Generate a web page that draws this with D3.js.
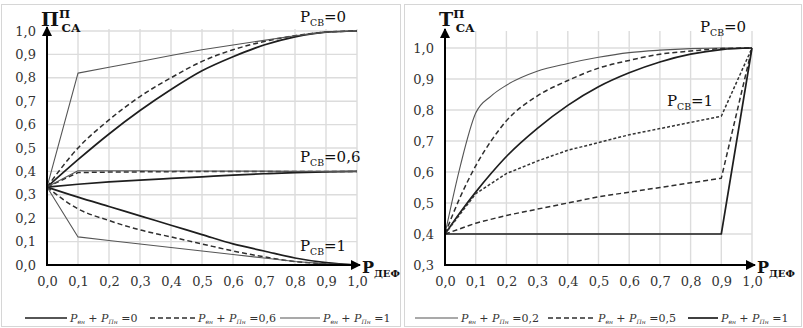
<!DOCTYPE html>
<html lang="ru">
<head>
<meta charset="UTF-8">
<title>П и Т</title>
<style>
  body { margin: 0; background: #fff; }
</style>
</head>
<body>
<div id="chart"></div>
<script src="https://d3js.org/d3.v7.min.js"></script>
<script>
// ---- data ----
const defX = [0, 0.1, 0.2, 0.3, 0.4, 0.5, 0.6, 0.7, 0.8, 0.9, 1.0];
const defXFine = [0, 0.05, 0.1, 0.15, 0.2, 0.3, 0.4, 0.5, 0.6, 0.7, 0.8, 0.9, 1.0];
const tickLabels = ["0,0", "0,1", "0,2", "0,3", "0,4", "0,5", "0,6", "0,7", "0,8", "0,9", "1,0"];
const leftYTicks = [0, 0.1, 0.2, 0.3, 0.4, 0.5, 0.6, 0.7, 0.8, 0.9, 1.0];
const rightYTicks = [0.3, 0.4, 0.5, 0.6, 0.7, 0.8, 0.9, 1.0];

// left panel, П_СА
const p_cb0_s0 = [0.333, 0.45, 0.56, 0.66, 0.75, 0.83, 0.89, 0.94, 0.975, 0.995, 1.0];
const p_cb0_s06 = [0.333, 0.50, 0.62, 0.72, 0.80, 0.87, 0.92, 0.955, 0.98, 0.995, 1.0];
const p_cb0_s1 = [0.333, 0.82, 0.845, 0.87, 0.895, 0.92, 0.94, 0.96, 0.98, 0.995, 1.0];
const p_cb06_s0 = [0.333, 0.345, 0.355, 0.363, 0.37, 0.377, 0.384, 0.39, 0.395, 0.398, 0.40];
const p_cb06_s06 = [0.333, 0.395, 0.397, 0.398, 0.399, 0.40, 0.40, 0.40, 0.40, 0.40, 0.40];
const p_cb06_s1 = [0.333, 0.403, 0.403, 0.403, 0.402, 0.402, 0.401, 0.401, 0.40, 0.40, 0.40];
const p_cb1_s0 = [0.333, 0.29, 0.25, 0.21, 0.17, 0.13, 0.09, 0.06, 0.03, 0.01, 0.0];
const p_cb1_s06 = [0.333, 0.24, 0.19, 0.15, 0.12, 0.09, 0.06, 0.035, 0.015, 0.005, 0.0];
const p_cb1_s1 = [0.333, 0.12, 0.105, 0.09, 0.075, 0.06, 0.045, 0.03, 0.015, 0.005, 0.0];

// right panel, Т_СА
const t_cb0_s02 = [0.4, 0.62, 0.79, 0.845, 0.88, 0.925, 0.95, 0.97, 0.985, 0.993, 0.998, 1.0, 1.0];
const t_cb0_s05 = [0.4, 0.52, 0.62, 0.70, 0.765, 0.845, 0.895, 0.935, 0.96, 0.98, 0.99, 0.998, 1.0];
const t_cb0_s1 = [0.4, 0.47, 0.535, 0.595, 0.65, 0.74, 0.815, 0.875, 0.92, 0.955, 0.98, 0.995, 1.0];
const t_cb1_top = [0.4, 0.53, 0.595, 0.635, 0.67, 0.695, 0.72, 0.74, 0.76, 0.78, 1.0];
const t_cb1_mid = [0.4, 0.435, 0.46, 0.48, 0.50, 0.52, 0.535, 0.55, 0.565, 0.58, 1.0];
const t_cb1_low = [0.4, 0.4, 0.4, 0.4, 0.4, 0.4, 0.4, 0.4, 0.4, 0.4, 1.0];

const leftLegend = ["=0", "=0,6", "=1"];
const rightLegend = ["=0,2", "=0,5", "=1"];

// ---- styles ----
const styles = {
  thick: { stroke: "#1e1e1e", width: 1.7, dash: null },
  dashed: { stroke: "#2e2e2e", width: 1.5, dash: "5,3" },
  dotted: { stroke: "#333", width: 1.5, dash: "3,2" },
  thin: { stroke: "#555", width: 1.1, dash: null }
};
const serif = "'DejaVu Serif', serif";

const svg = d3.select("#chart").append("svg")
  .attr("width", 803).attr("height", 328)
  .attr("font-family", serif);

svg.append("defs").append("marker")
  .attr("id", "arrow")
  .attr("viewBox", "0 0 10 10")
  .attr("refX", 9).attr("refY", 5)
  .attr("markerWidth", 5).attr("markerHeight", 5)
  .attr("markerUnits", "strokeWidth")
  .attr("orient", "auto")
  .append("path").attr("d", "M0,0 L10,5 L0,10 z").attr("fill", "#000");

// panel frames
svg.append("rect").attr("x", 1.5).attr("y", 4.5).attr("width", 399).attr("height", 322)
  .attr("fill", "none").attr("stroke", "#d6d6d6");
svg.append("rect").attr("x", 404.5).attr("y", 4.5).attr("width", 397).attr("height", 322)
  .attr("fill", "none").attr("stroke", "#d6d6d6");

function sub(sel, main, s, opts) {
  const t = sel.append("text")
    .attr("x", opts.x).attr("y", opts.y)
    .attr("font-size", opts.size)
    .attr("font-weight", opts.bold ? "bold" : "normal")
    .attr("font-family", serif)
    .attr("fill", "#111");
  t.append("tspan").text(main);
  if (opts.sup) {
    t.append("tspan").attr("font-size", opts.size * 0.62).attr("dy", -opts.size * 0.42).text(opts.sup);
    t.append("tspan").attr("font-size", opts.size * 0.62).attr("dx", -opts.size * 0.45).attr("dy", opts.size * 0.75).text(s);
  } else {
    t.append("tspan").attr("font-size", opts.size * 0.62).attr("dy", opts.size * 0.25).text(s);
    if (opts.tail) t.append("tspan").attr("dy", -opts.size * 0.25).text(opts.tail);
  }
  return t;
}

function panel(cfg) {
  const g = svg.append("g");
  const x = d3.scaleLinear().domain([0, 1]).range(cfg.xRange);
  const y = d3.scaleLinear().domain([cfg.yTicks[0], 1]).range(cfg.yRange);

  // grid
  g.append("g").selectAll("line.v").data(defX.slice(1)).join("line")
    .attr("x1", d => x(d)).attr("x2", d => x(d))
    .attr("y1", cfg.gridTop).attr("y2", y(cfg.yTicks[0]))
    .attr("stroke", "#dcdcdc").attr("stroke-width", 1.4);
  g.append("g").selectAll("line.h").data(cfg.yTicks.slice(1)).join("line")
    .attr("x1", x(0)).attr("x2", x(1))
    .attr("y1", d => y(d)).attr("y2", d => y(d))
    .attr("stroke", "#dcdcdc").attr("stroke-width", 1.4);

  // tick labels
  const xAxis = g.append("g")
    .attr("transform", `translate(0,${y(cfg.yTicks[0])})`)
    .call(d3.axisBottom(x).tickValues(defX).tickSize(0).tickPadding(12)
      .tickFormat((d, i) => tickLabels[i]));
  const yAxis = g.append("g")
    .attr("transform", `translate(${x(0)},0)`)
    .call(d3.axisLeft(y).tickValues(cfg.yTicks).tickSize(0).tickPadding(11)
      .tickFormat(d => d.toFixed(1).replace(".", ",")));
  [xAxis, yAxis].forEach(a => {
    a.attr("font-family", serif).attr("font-size", 13);
    a.select(".domain").remove();
    a.selectAll("text").attr("fill", "#333");
  });

  // curves
  cfg.series.forEach(s => {
    const st = styles[s.style];
    const line = d3.line()
      .x((d, i) => x(s.xs[i])).y(d => y(d))
      .curve(s.smooth ? d3.curveMonotoneX : d3.curveLinear);
    g.append("path").datum(s.values)
      .attr("d", line)
      .attr("fill", "none")
      .attr("stroke", st.stroke)
      .attr("stroke-width", st.width)
      .attr("stroke-dasharray", st.dash)
      .attr("stroke-linejoin", "round");
  });

  // axes with arrows
  g.append("line")
    .attr("x1", x(0)).attr("x2", x(0))
    .attr("y1", y(cfg.yTicks[0]) + 1).attr("y2", cfg.arrowTop)
    .attr("stroke", "#000").attr("stroke-width", 2).attr("marker-end", "url(#arrow)");
  g.append("line")
    .attr("x1", x(0) - 1).attr("x2", x(1) + 3)
    .attr("y1", y(cfg.yTicks[0])).attr("y2", y(cfg.yTicks[0]))
    .attr("stroke", "#000").attr("stroke-width", 2).attr("marker-end", "url(#arrow)");

  // axis titles
  sub(g, cfg.title, "СА", { x: x(0) - 6, y: 26, size: 19, bold: true, sup: "П" });
  sub(g, "P", "ДЕФ", { x: x(1) + 5, y: 273, size: 16, bold: true });

  // curve group labels
  cfg.labels.forEach(l => {
    sub(g, "P", "СВ", { x: l.x, y: l.y, size: 15, tail: l.text });
  });

  // legend
  const items = g.append("g").attr("transform", `translate(0,${cfg.legendY})`);
  cfg.legend.forEach(lg => {
    const st = styles[lg.style];
    items.append("line")
      .attr("x1", lg.x).attr("x2", lg.x + lg.len).attr("y1", 0).attr("y2", 0)
      .attr("stroke", st.stroke).attr("stroke-width", st.width)
      .attr("stroke-dasharray", st.dash);
    const t = items.append("text").attr("x", lg.x + lg.len + 3).attr("y", 4)
      .attr("font-family", serif)
      .attr("font-size", 11).attr("font-style", "italic").attr("fill", "#333");
    t.append("tspan").text("P");
    t.append("tspan").attr("font-size", 6).attr("dy", 2).text("вн");
    t.append("tspan").attr("dy", -2).text(" + P");
    t.append("tspan").attr("font-size", 6).attr("dy", 2).text("Пн");
    t.append("tspan").attr("dy", -2).attr("font-style", "normal").text(" " + lg.text);
  });
}

panel({
  xRange: [47, 357], yRange: [265, 31], yTicks: leftYTicks,
  gridTop: 29, arrowTop: 27, title: "П", legendY: 318,
  series: [
    { xs: defX, values: p_cb0_s0, style: "thick", smooth: true },
    { xs: defX, values: p_cb0_s06, style: "dashed", smooth: true },
    { xs: defX, values: p_cb0_s1, style: "thin", smooth: false },
    { xs: defX, values: p_cb06_s0, style: "thick", smooth: true },
    { xs: defX, values: p_cb06_s06, style: "dashed", smooth: false },
    { xs: defX, values: p_cb06_s1, style: "thin", smooth: false },
    { xs: defX, values: p_cb1_s0, style: "thick", smooth: true },
    { xs: defX, values: p_cb1_s06, style: "dashed", smooth: true },
    { xs: defX, values: p_cb1_s1, style: "thin", smooth: false }
  ],
  labels: [
    { x: 300, y: 22, text: "=0" },
    { x: 300, y: 162, text: "=0,6" },
    { x: 300, y: 251, text: "=1" }
  ],
  legend: [
    { x: 25, len: 42, style: "thick", text: leftLegend[0] },
    { x: 150, len: 45, style: "dashed", text: leftLegend[1] },
    { x: 280, len: 40, style: "thin", text: leftLegend[2] }
  ]
});

panel({
  xRange: [445, 752], yRange: [265, 48], yTicks: rightYTicks,
  gridTop: 31, arrowTop: 29, title: "Т", legendY: 318,
  series: [
    { xs: defXFine, values: t_cb0_s02, style: "thin", smooth: true },
    { xs: defXFine, values: t_cb0_s05, style: "dashed", smooth: true },
    { xs: defXFine, values: t_cb0_s1, style: "thick", smooth: true },
    { xs: defX, values: t_cb1_top, style: "dotted", smooth: false },
    { xs: defX, values: t_cb1_mid, style: "dashed", smooth: false },
    { xs: defX, values: t_cb1_low, style: "thick", smooth: false }
  ],
  labels: [
    { x: 700, y: 32, text: "=0" },
    { x: 667, y: 106, text: "=1" }
  ],
  legend: [
    { x: 415, len: 43, style: "thin", text: rightLegend[0] },
    { x: 548, len: 47, style: "dashed", text: rightLegend[1] },
    { x: 688, len: 30, style: "thick", text: rightLegend[2] }
  ]
});
</script>
</body>
</html>
